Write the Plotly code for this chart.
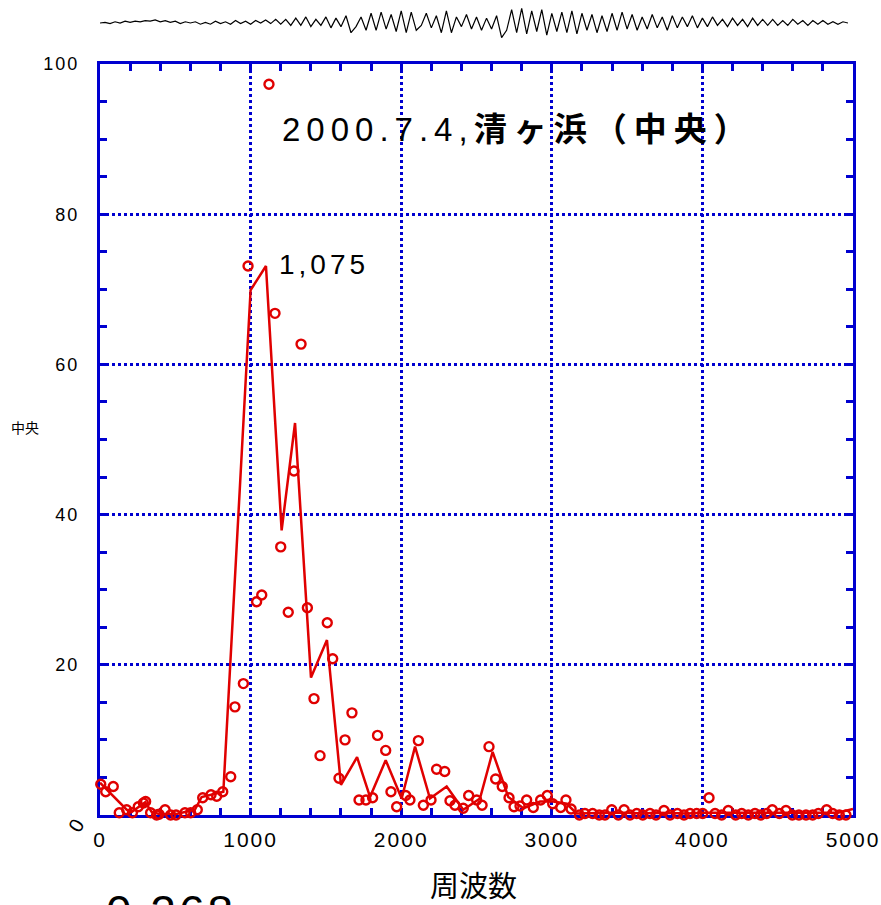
import plotly.graph_objects as go

W, H = 881, 905

# ---- data ----
pt_x = [5, 38, 88, 128, 177, 215, 254, 288, 303, 336, 376, 392, 432, 469, 505, 564, 602, 646, 682, 737, 775, 815, 868,
        896, 952, 983, 1040, 1074, 1122, 1162, 1200, 1250, 1288, 1335, 1377, 1421, 1461, 1509, 1545, 1587, 1627, 1673,
        1720, 1766, 1810, 1843, 1897, 1932, 1970, 2030, 2058, 2114, 2147, 2198, 2235, 2289, 2324, 2357, 2412, 2448,
        2501, 2537, 2583, 2627, 2671, 2716, 2749, 2789, 2833, 2877, 2926, 2970, 3006, 3059, 3094, 3128, 3183, 3220,
        3271, 3315, 3353, 3398, 3442, 3480, 3519, 3564, 3604, 3652, 3692, 3745, 3785, 3834, 3878, 3918, 3962, 4002,
        4044, 4084, 4128, 4172, 4221, 4261, 4305, 4349, 4387, 4427, 4464, 4511, 4555, 4597, 4641, 4688, 4732, 4770,
        4825, 4865, 4909, 4953, 5002]
pt_y = [4.1, 3.1, 3.8, 0.3, 0.7, 0.3, 1.1, 1.6, 1.8, 0.3, 0.0, 0.1, 0.7, 0.0, 0.0, 0.3, 0.3, 0.7, 2.3, 2.7, 2.5, 3.1, 5.1,
        14.4, 17.5, 73.1, 28.4, 29.3, 97.3, 66.8, 35.7, 27.0, 45.8, 62.7, 27.6, 15.5, 7.9, 25.6, 20.8, 4.9, 10.0, 13.6,
        2.0, 2.0, 2.3, 10.6, 8.6, 3.1, 1.1, 2.6, 2.0, 9.9, 1.3, 2.0, 6.1, 5.8, 1.9, 1.3, 0.9, 2.6,
        2.0, 1.3, 9.1, 4.8, 3.8, 2.3, 1.1, 1.2, 2.0, 1.0, 2.0, 2.6, 1.5, 1.0, 2.0, 0.8, 0.0, 0.2,
        0.2, 0.0, 0.0, 0.7, 0.0, 0.7, 0.0, 0.2, 0.0, 0.2, 0.0, 0.6, 0.0, 0.2, 0.0, 0.2, 0.2, 0.2,
        2.3, 0.2, 0.0, 0.6, 0.0, 0.2, 0.0, 0.2, 0.0, 0.2, 0.7, 0.2, 0.6, 0.0, 0.0, 0.0, 0.0, 0.2,
        0.7, 0.2, 0.0, 0.0, 0.9]

line_x = [0, 177, 210, 300, 343, 400, 500, 630, 675, 819, 1000, 1102, 1206, 1295, 1401, 1507, 1600, 1707, 1793, 1897,
          2003, 2092, 2191, 2302, 2412, 2523, 2607, 2711, 2811, 2922, 3010, 3099, 3165, 3300, 3400, 3500, 3600, 3700,
          3800, 3900, 4000, 4100, 4200, 4300, 4400, 4500, 4600, 4700, 4800, 4900, 5000]
line_y = [4.3, 0.7, 0.4, 1.7, 0.4, 0.1, 0.1, 0.7, 2.4, 3.1, 69.9, 73.1, 37.9, 52.2, 18.3, 23.3, 4.0, 7.7, 2.4, 7.3,
          2.2, 9.1, 2.2, 3.8, 0.7, 2.2, 8.4, 2.4, 0.9, 1.8, 1.8, 1.5, 0.2, 0.3, 0.3, 0.3, 0.2, 0.3,
          0.2, 0.2, 0.3, 0.3, 0.3, 0.2, 0.3, 0.3, 0.3, 0.2, 0.3, 0.3, 0.8]

wave = [0, 0.5, -0.5, 1, 0, 1.5, 0.5, 1.5, 1, 2, 1.5, 2.5, 1, 2, 0.5, 1.5, -0.5, 1, 0, 1, -1, 0.5, -1, 1.5, -0.5, 1, -1,
        2, -0.5, 1.5, -1, 2, 0, 2.5, -0.5, 3, -1, 3,
        -2, 4, -2, 5, -3, 3, -2, 5, -4, 4, -3, 6,
        -8, -3, 5, -6, 8, -6, 9, -5, 7, -7, 10, -8, 9, -6,
        -2, 8, -4, 6, -8, 10, -8, 5, -3, 7, -5, 5, -6, 4, -5, 6,
        -12, -6, 11, -8, 12, -9,
        10, -7, 11, -10, 8, -7, 9, -8, 10, -9, 8, -6, 7, -8,
        6, -7, 8, -6, 9, -5, 7, -6, 5, -5, 7, -4, 5, -6, 6, -4, 5, -3, 6, -4,
        4, -3, 5, -2, 3, -3, 4, -2, 3, -3, 4, -2, 3, -2, 3, -2, 2, -2, 3, -1, 2, -2, 2, -1, 2, -1, 1, -1, 1, 0]

x_ticks = [0, 1000, 2000, 3000, 4000, 5000]
y_ticks = [20, 40, 60, 80, 100]

RED = "#e00000"
BLUE = "#0000d0"
FONT = "Liberation Sans, Arial, Noto Sans CJK JP"

fig = go.Figure()
fig.add_trace(go.Scatter(x=line_x, y=line_y, mode="lines", line=dict(color=RED, width=2.5),
                         cliponaxis=False, showlegend=False))
fig.add_trace(go.Scatter(x=pt_x, y=pt_y, mode="markers",
                         marker=dict(symbol="circle-open", size=9, color=RED, line=dict(width=2.4, color=RED)),
                         cliponaxis=False, showlegend=False))
fig.add_trace(go.Scatter(x=list(range(len(wave))), y=wave, mode="lines", line=dict(color="black", width=1.2),
                         xaxis="x2", yaxis="y2", showlegend=False))

def sp(t, ls):
    return f'<span style="letter-spacing:{ls}px">{t}</span>'

fig.update_layout(
    width=W, height=H, margin=dict(l=0, r=0, t=0, b=0, autoexpand=False),
    paper_bgcolor="white", plot_bgcolor="white",
    font=dict(family=FONT, color="black"),
    xaxis=dict(domain=[100 / W, 853 / W], range=[0, 5000], showline=True, linecolor=BLUE, linewidth=3,
               mirror="allticks", ticks="inside", ticklen=7, tickwidth=2.5, tickcolor=BLUE,
               tickvals=x_ticks, ticktext=[sp(str(v), 2) for v in x_ticks], automargin=False,
               tickfont=dict(size=21, family=FONT), ticklabelstandoff=4,
               showgrid=True, gridcolor=BLUE, gridwidth=2.5, griddash="dot", zeroline=False,
               layer="below traces",
               minor=dict(dtick=200, ticks="inside", ticklen=7, tickwidth=2.5, tickcolor=BLUE, showgrid=False)),
    yaxis=dict(domain=[1 - 815 / H, 1 - 64 / H], range=[0, 100], showline=True, linecolor=BLUE, linewidth=3,
               mirror="allticks", ticks="inside", ticklen=7, tickwidth=2.5, tickcolor=BLUE,
               tickvals=y_ticks, ticktext=[sp(str(v), 2) for v in y_ticks], automargin=False,
               tickfont=dict(size=18, family=FONT), ticklabelstandoff=14,
               showgrid=True, gridcolor=BLUE, gridwidth=2.5, griddash="dot", zeroline=False,
               layer="below traces",
               minor=dict(dtick=5, ticks="inside", ticklen=7, tickwidth=2.5, tickcolor=BLUE, showgrid=False)),
    xaxis2=dict(domain=[100 / W, 848 / W], range=[0, len(wave) - 1], visible=False, anchor="y2"),
    yaxis2=dict(domain=[1 - 40 / H, 1 - 6 / H], range=[-14, 14], visible=False, anchor="x2"),
)

annos = [
    dict(x=280 / W, y=1 - 130 / H, text=sp("2000.7.4,", 6) + "<b>" + sp("清ヶ浜（中央）", 7) + "</b>",
         font=dict(size=33, family=FONT), xanchor="left", yanchor="middle"),
    dict(x=277 / W, y=1 - 264 / H, text=sp("1,075", 4), font=dict(size=28, family=FONT),
         xanchor="left", yanchor="middle"),
    dict(x=25 / W, y=1 - 427 / H, text="中央", font=dict(size=14, family="Noto Sans CJK JP"),
         xanchor="center", yanchor="middle"),
    dict(x=473 / W, y=1 - 884 / H, text="周波数", font=dict(size=29, family="Noto Sans CJK JP"),
         xanchor="center", yanchor="middle"),
    dict(x=76 / W, y=1 - 826 / H, text="0", textangle=-60, font=dict(size=20, family=FONT),
         xanchor="center", yanchor="middle"),
    dict(x=104 / W, y=1 - 884 / H, text=sp("0.268", 3), font=dict(size=46, family=FONT),
         xanchor="left", yanchor="top"),
]
for a in annos:
    a.update(xref="paper", yref="paper", showarrow=False)
fig.update_layout(annotations=annos)

fig.write_html("out.html")
